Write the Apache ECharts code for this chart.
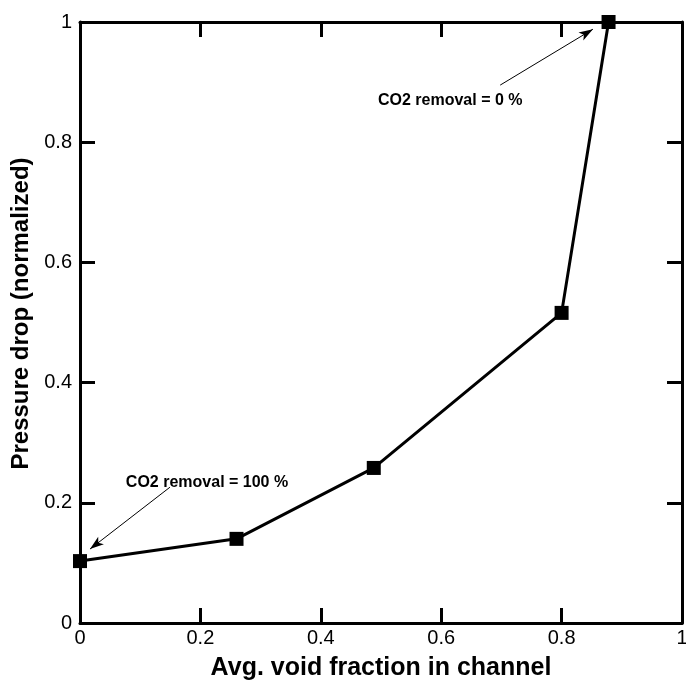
<!DOCTYPE html>
<html>
<head>
<meta charset="utf-8">
<script src="https://cdn.jsdelivr.net/npm/echarts@6/dist/echarts.min.js"></script>
<style>
  html, body { margin: 0; padding: 0; background: #fff; }
  #mainChart { width: 686px; height: 680px; }
</style>
</head>
<body>
<div id="mainChart"></div>
<script>
// data
var voidFraction = [0, 0.26, 0.488, 0.80, 0.878];
var pressureDrop = [0.103, 0.14, 0.258, 0.516, 1.0];
var annotText = ["CO2 removal = 100 %", "CO2 removal = 0 %"];
var annotPos = [[0.211, 0.233], [0.615, 0.870]];
var arrowFrom = [[0.1495, 0.226], [0.698, 0.895]];
var arrowTo = [[0.0166, 0.123], [0.852, 0.988]];

var font = "Liberation Sans, Arial, sans-serif";

var points = [];
for (var i = 0; i < voidFraction.length; i++) {
    points.push([voidFraction[i], pressureDrop[i]]);
}

var arrows = [];
for (var j = 0; j < arrowFrom.length; j++) {
    arrows.push([
        { coord: arrowFrom[j], symbol: "none" },
        { coord: arrowTo[j], symbol: "arrow", symbolSize: [7, 14] }
    ]);
}

var labels = [];
for (var k = 0; k < annotText.length; k++) {
    labels.push({ coord: annotPos[k], value: annotText[k] });
}

function axisBase(pos, showLabel) {
    return {
        type: "value",
        position: pos,
        min: 0, max: 1, interval: 0.2,
        axisLine: { show: true, onZero: false, lineStyle: { color: "#000", width: 3 } },
        axisTick: { show: true, inside: true, length: 15, lineStyle: { color: "#000", width: 3 } },
        splitLine: { show: false },
        axisLabel: {
            show: showLabel, color: "#000", fontSize: 20, fontFamily: font,
            formatter: function (v) { return String(Math.round(v * 10) / 10); }
        }
    };
}

var xBottom = axisBase("bottom", true);
xBottom.name = "Avg. void fraction in channel";
xBottom.nameLocation = "middle";
xBottom.nameGap = 33;
xBottom.nameTextStyle = { color: "#000", fontSize: 25, fontWeight: "bold", fontFamily: font };
xBottom.axisLabel.margin = 5;

var yLeft = axisBase("left", true);
yLeft.name = "Pressure drop (normalized)";
yLeft.nameLocation = "middle";
yLeft.nameGap = 42;
// padding nudges the rotated title up a little, as in the original
yLeft.nameTextStyle = { color: "#000", fontSize: 24, fontWeight: "bold", fontFamily: font, padding: [0, 0, 0, 18] };
yLeft.axisLabel.margin = 8;

var n = echarts.init(document.getElementById("mainChart"));
n.setOption({
    backgroundColor: "#fff",
    animation: false,
    grid: { left: 80, top: 22, right: 4, bottom: 57, containLabel: false, outerBoundsMode: "none" },
    xAxis: [xBottom, axisBase("top", false)],
    yAxis: [yLeft, axisBase("right", false)],
    series: [{
        type: "line",
        data: points,
        xAxisIndex: 0, yAxisIndex: 0,
        symbol: "rect", symbolSize: 14,
        itemStyle: { color: "#000" },
        lineStyle: { color: "#000", width: 3 },
        clip: false,
        markLine: {
            silent: true,
            animation: false,
            lineStyle: { color: "#000", width: 1, type: "solid" },
            label: { show: false },
            data: arrows
        },
        markPoint: {
            silent: true,
            symbol: "rect", symbolSize: 0,
            label: {
                show: true, position: "inside",
                color: "#000", fontSize: 16, fontWeight: "bold", fontFamily: font,
                formatter: function (p) { return p.value; }
            },
            data: labels
        }
    }]
});
</script>
</body>
</html>
